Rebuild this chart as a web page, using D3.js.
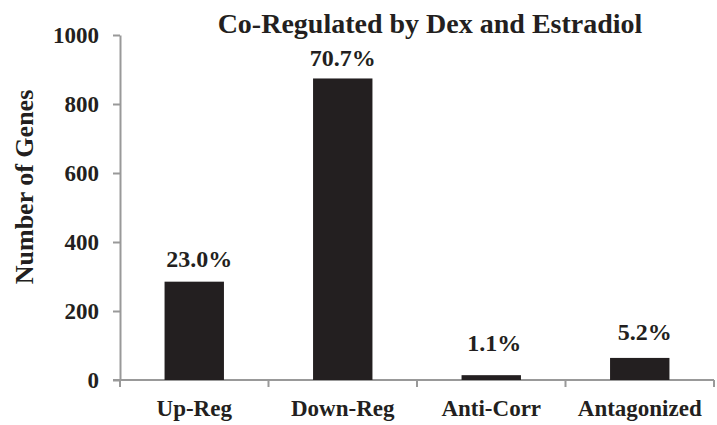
<!DOCTYPE html>
<html>
<head>
<meta charset="utf-8">
<script src="https://cdn.jsdelivr.net/npm/d3@7"></script>
<style>
  html, body { margin: 0; padding: 0; background: #fff; }
</style>
</head>
<body>
<svg id="chart" width="717" height="425"></svg>
<script>
// Genes co-regulated by Dex and Estradiol, grouped by regulation pattern
const categories = ["Up-Reg", "Down-Reg", "Anti-Corr", "Antagonized"];
const geneCounts = [285, 874, 14, 64];
const percentLabels = ["23.0%", "70.7%", "1.1%", "5.2%"];
const yTicks = [0, 200, 400, 600, 800, 1000];

// Hand-placed nudges for the percentage labels (pixels)
const labelLift = [15, 12, 24, 18];
const labelShift = [5, 0, 3, 5];

const FONT = "'Liberation Serif', 'Times New Roman', serif";
const INK = "#231f20";

const svg = d3.select("#chart");
const margin = { left: 120, right: 3, top: 35, bottom: 45 };
const width = 717, height = 425;

const x = d3.scaleBand()
  .domain(categories)
  .range([margin.left, width - margin.right])
  .paddingInner(0.6)
  .paddingOuter(0.3);

const y = d3.scaleLinear()
  .domain([0, 1000])
  .range([height - margin.bottom, margin.top]);

const axisColor = "#999999";

function styleText(sel, size) {
  return sel.style("font-family", FONT)
    .style("font-weight", "bold")
    .style("font-size", size + "px")
    .attr("fill", INK);
}

// Y axis
const yAxis = svg.append("g")
  .attr("transform", `translate(${margin.left},0)`)
  .call(d3.axisLeft(y).tickValues(yTicks).tickFormat(d3.format("d"))
    .tickSize(7).tickPadding(14).tickSizeOuter(0));
yAxis.select(".domain").attr("stroke", axisColor).attr("stroke-width", 2);
yAxis.selectAll(".tick line").attr("stroke", axisColor).attr("stroke-width", 2);
styleText(yAxis.selectAll(".tick text"), 23);

// X axis with category boundary ticks
const boundaries = d3.range(categories.length + 1)
  .map(i => margin.left + i * (width - margin.right - margin.left) / categories.length);
const xg = svg.append("g").attr("transform", `translate(0,${y(0)})`);
xg.append("line")
  .attr("x1", margin.left - 7).attr("x2", width - margin.right)
  .attr("stroke", axisColor).attr("stroke-width", 2);
xg.selectAll(".bt").data(boundaries).join("line")
  .attr("class", "bt")
  .attr("x1", d => d).attr("x2", d => d)
  .attr("y1", 0).attr("y2", 7)
  .attr("stroke", axisColor).attr("stroke-width", 2);
styleText(xg.selectAll(".cl").data(categories).join("text")
  .attr("class", "cl")
  .attr("x", d => x(d) + x.bandwidth() / 2)
  .attr("y", 36)
  .attr("text-anchor", "middle")
  .text(d => d), 23);

// Bars
svg.selectAll(".bar").data(categories).join("rect")
  .attr("class", "bar")
  .attr("x", d => x(d))
  .attr("width", x.bandwidth())
  .attr("y", (d, i) => y(geneCounts[i]))
  .attr("height", (d, i) => y(0) - y(geneCounts[i]))
  .attr("fill", INK);

// Percentage labels
styleText(svg.selectAll(".pl").data(categories).join("text")
  .attr("class", "pl")
  .attr("x", (d, i) => x(d) + x.bandwidth() / 2 + labelShift[i])
  .attr("y", (d, i) => y(geneCounts[i]) - labelLift[i])
  .attr("text-anchor", "middle")
  .text((d, i) => percentLabels[i]), 24);

// Title
styleText(svg.append("text")
  .attr("x", 430)
  .attr("y", 33)
  .attr("text-anchor", "middle")
  .text("Co-Regulated by Dex and Estradiol"), 28);

// Y axis title
styleText(svg.append("text")
  .attr("transform", "translate(33,187) rotate(-90)")
  .attr("text-anchor", "middle")
  .text("Number of Genes"), 26);
</script>
</body>
</html>
